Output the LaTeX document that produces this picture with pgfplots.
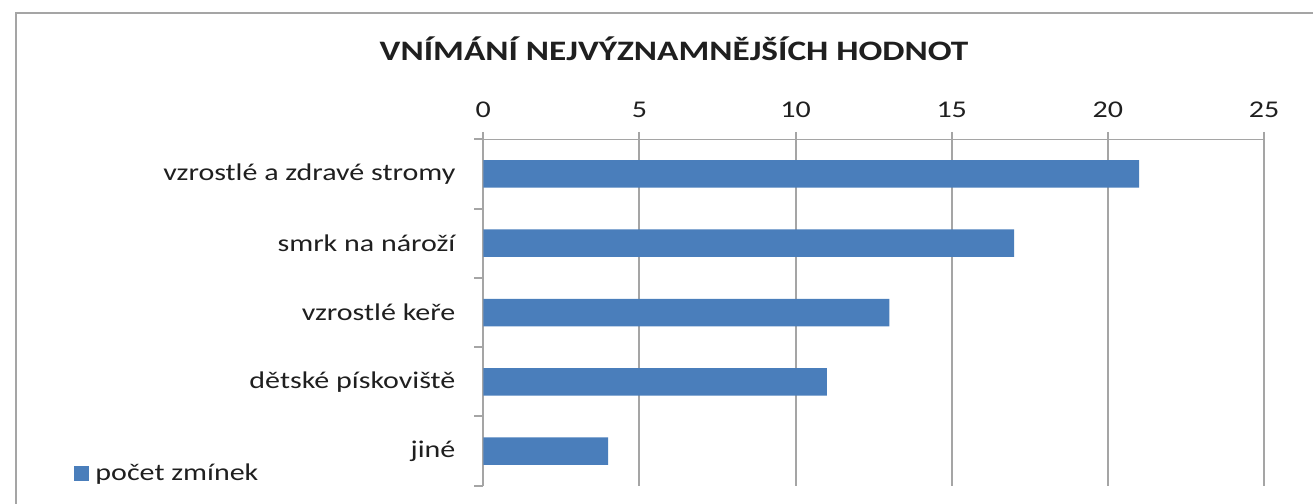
\documentclass[border=0pt]{standalone}
\usepackage{fontspec}
\setmainfont{Carlito}[FakeStretch=1.25]
\usepackage{pgfplots}
\pgfplotsset{compat=1.18}
\definecolor{barblue}{HTML}{4A7EBB}
\definecolor{gridgray}{HTML}{A5A5A5}
\definecolor{txt}{HTML}{1F1F1F}
\begin{document}
\begin{tikzpicture}
\useasboundingbox (0,0) rectangle (1313pt,-503pt);
\draw[gridgray, line width=2pt] (16pt,-620pt) -- (16pt,-12.7pt) -- (1400pt,-12.7pt);
\node[font=\bfseries\fontsize{28.2}{30}\selectfont, text=txt, anchor=base, inner sep=0pt] at (674pt,-60.7pt) {VNÍMÁNÍ NEJVÝZNAMNĚJŠÍCH HODNOT};
\begin{axis}[
  at={(483.3pt,-485.7pt)}, anchor=south west,
  scale only axis, width=780.7pt, height=346.4pt,
  xbar, bar width=27.5pt,
  xmin=0, xmax=25, ymin=0.5, ymax=5.5,
  xtick={0,5,10,15,20,25},
  ytick={1,2,3,4,5},
  yticklabels={jiné, dětské pískoviště, vzrostlé keře, smrk na nároží, vzrostlé a zdravé stromy},
  minor ytick={0.5,1.5,2.5,3.5,4.5,5.5},
  tick align=outside,
  xtick pos=right, xticklabel pos=right,
  ytick pos=left,
  xtick style={draw=gridgray, line width=2pt, /pgfplots/major tick length=7.5pt},
  ytick style={draw=gridgray, line width=2pt, /pgfplots/major tick length=0pt},
  minor tick length=9pt,
  xmajorgrids, major grid style={gridgray, line width=2pt},
  axis line style={draw=none},
  /pgf/number format/assume math mode=true,
  xticklabel style={font=\fontsize{24}{26}\selectfont, text=txt, anchor=base, inner sep=0pt, yshift=18pt},
  yticklabel style={font=\fontsize{24}{26}\selectfont, text=txt, anchor=east, inner sep=0pt, xshift=-23.5pt},
  legend style={draw=none, fill=none, inner sep=0pt, outer sep=0pt, column sep=6pt,
    at={(-0.5243,0.036)}, anchor=west, font=\fontsize{24}{26}\selectfont, text=txt,
    nodes={inner sep=0pt}},
  legend cell align=left,
  legend image code/.code={\fill[barblue] (0pt,-7.5pt) rectangle (15.5pt,7.5pt);},
]
\addplot[fill=barblue, draw=none] coordinates {(4,1) (11,2) (13,3) (17,4) (21,5)};
\addlegendentry{počet zmínek}
\draw[gridgray, line width=2pt] (axis cs:0,5.5) -- (axis cs:25,5.5);
\end{axis}
\end{tikzpicture}
\end{document}
